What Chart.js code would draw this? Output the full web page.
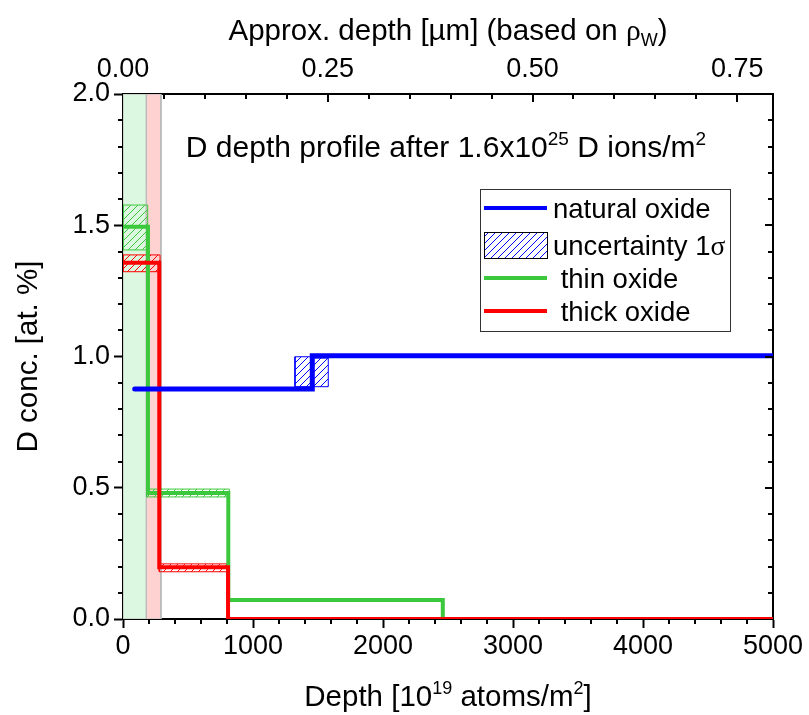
<!DOCTYPE html>
<html>
<head>
    <title>D depth profile</title>
    <script src="https://cdn.jsdelivr.net/npm/chart.js"></script>
    <style>
        body { margin: 0; background: #fff; }
        #wrap { width: 809px; height: 715px; }
    </style>
</head>
<body>
    <div id="wrap"><canvas id="profileChart"></canvas></div>
    <script>
        // layer boundaries [10^19 atoms/m^2] and D concentration [at.%] per layer
        const naturalEdges = [90, 1456, 5000];
        const naturalConc = [0.876, 1.003];
        const thinEdges = [0, 192, 810, 2460, 5000];
        const thinConc = [1.494, 0.48, 0.072, 0];
        const thickEdges = [0, 279, 808, 5000];
        const thickConc = [1.357, 0.197, 0];

        // 1 sigma boxes: [depth from, depth to, conc low, conc high]
        const naturalUnc = [[1323, 1456, 0.885, 0.999], [1456, 1579, 0.885, 0.994]];
        const thinUnc = [[0, 190, 1.406, 1.577], [182, 818, 0.465, 0.495]];
        const thickUnc = [[0, 285, 1.323, 1.387], [279, 808, 0.18, 0.21]];

        // oxide layers (shaded bands)
        const thinBand = [0, 180];
        const thickBand = [180, 292];

        // axes
        const depthMax = 5000;
        const concMax = 2.0;
        const depthTicks = [0, 1000, 2000, 3000, 4000, 5000];
        const umTicks = [0, 0.25, 0.5, 0.75];
        const concTicks = [0, 0.5, 1.0, 1.5, 2.0];
        const W_DENSITY = 6.3e28; // atoms/m^3
        const umMax = depthMax * 1e19 / W_DENSITY * 1e6;

        const FONT = '"Liberation Sans", Arial, sans-serif';
        const SERIF = '"Liberation Serif", "Times New Roman", serif';

        function steps(edges, conc) {
            const pts = conc.map((c, i) => ({ x: edges[i], y: c }));
            pts.push({ x: edges[edges.length - 1], y: conc[conc.length - 1] });
            return pts;
        }

        function box(b) {
            const [x0, x1, lo, hi] = b;
            return [{ x: x0, y: lo }, { x: x1, y: lo }, { x: x1, y: hi }, { x: x0, y: hi }, { x: x0, y: lo }];
        }

        function band(b) {
            return [{ x: b[0], y: 0 }, { x: b[0], y: concMax }, { x: b[1], y: concMax }, { x: b[1], y: 0 }, { x: b[0], y: 0 }];
        }

        function hatch(color) {
            const c = document.createElement('canvas');
            c.width = 7; c.height = 7;
            const g = c.getContext('2d');
            g.strokeStyle = color;
            g.lineWidth = 1;
            g.beginPath();
            g.moveTo(0, 7); g.lineTo(7, 0);
            g.moveTo(-1, 1); g.lineTo(1, -1);
            g.moveTo(6, 8); g.lineTo(8, 6);
            g.stroke();
            return g.createPattern(c, 'repeat');
        }

        const BLUE = '#0000ff', GREEN = '#3cc83c', RED = '#ff0000';

        function stepSet(data, color, width, cap) {
            return { data, borderColor: color, borderWidth: width, stepped: 'before', pointRadius: 0, fill: false, order: 1, borderCapStyle: cap || 'butt' };
        }
        function boxSet(b, color) {
            return { data: box(b), borderColor: color, borderWidth: 1, backgroundColor: hatch(color), fill: 'shape', pointRadius: 0, order: 2 };
        }
        function bandSet(b, color) {
            return { data: band(b), borderColor: '#b8b8b8', borderWidth: 1, backgroundColor: color, fill: 'shape', pointRadius: 0, order: 3 };
        }

        const datasets = [
            stepSet(steps(naturalEdges, naturalConc), BLUE, 5, 'round'),
            stepSet(steps(thickEdges, thickConc), RED, 4),
            stepSet(steps(thinEdges, thinConc), GREEN, 4),
            ...naturalUnc.map(b => boxSet(b, BLUE)),
            ...thickUnc.map(b => boxSet(b, RED)),
            ...thinUnc.map(b => boxSet(b, GREEN)),
            bandSet(thickBand, '#ffd2d2'),
            bandSet(thinBand, '#dcf8e0'),
        ];

        // text with super/subscripts
        function rich(ctx, parts, x, y, size, align) {
            const fontOf = m => {
                const s = (m === 'sup' || m === 'sub') ? Math.round(size * 0.62) : size;
                return s + 'px ' + (m === 'serif' ? SERIF : FONT);
            };
            const widths = parts.map(([t, m]) => { ctx.font = fontOf(m); return ctx.measureText(t).width; });
            const total = widths.reduce((a, b) => a + b, 0);
            let cx = align === 'center' ? x - total / 2 : x;
            ctx.textAlign = 'left';
            ctx.textBaseline = 'alphabetic';
            parts.forEach(([t, m], i) => {
                ctx.font = fontOf(m);
                const dy = m === 'sup' ? -size * 0.4 : m === 'sub' ? size * 0.22 : 0;
                ctx.fillText(t, cx, y + dy);
                cx += widths[i];
            });
        }

        const frame = {
            id: 'frame',
            afterDraw(chart) {
                const ctx = chart.ctx;
                const { x, x2, y, y2 } = chart.scales;
                const a = chart.chartArea;
                ctx.save();
                ctx.strokeStyle = '#000';
                ctx.lineWidth = 2;
                ctx.beginPath();
                // bottom minor ticks (outward)
                for (let v = 200; v < depthMax; v += 200) {
                    if (v % 1000 === 0) continue;
                    const px = Math.round(x.getPixelForValue(v));
                    ctx.moveTo(px, a.bottom); ctx.lineTo(px, a.bottom + 5);
                }
                // left minor ticks (outward)
                for (let i = 1; i < 20; i++) {
                    if (i % 5 === 0) continue;
                    const py = Math.round(y.getPixelForValue(i / 10));
                    ctx.moveTo(a.left, py); ctx.lineTo(a.left - 5, py);
                }
                // top ticks (inward)
                for (let i = 1; i * 0.05 < umMax; i++) {
                    const px = Math.round(x2.getPixelForValue(i * 0.05));
                    const len = i % 5 === 0 ? 8 : 5;
                    ctx.moveTo(px, a.top); ctx.lineTo(px, a.top + len);
                }
                // right ticks (inward)
                for (let i = 1; i < 20; i++) {
                    const py = Math.round(y2.getPixelForValue(i / 10));
                    const len = i % 5 === 0 ? 8 : 5;
                    ctx.moveTo(a.right, py); ctx.lineTo(a.right - len, py);
                }
                ctx.stroke();

                ctx.fillStyle = '#000';
                // axis titles
                rich(ctx, [['Depth [10'], ['19', 'sup'], [' atoms/m'], ['2', 'sup'], [']']], (a.left + a.right) / 2, 706, 29.5, 'center');
                rich(ctx, [['Approx. depth [µm] (based on '], ['ρ', 'serif'], ['W', 'sub'], [')']], 448, 40, 29.5, 'center');
                ctx.save();
                ctx.translate(37, (a.top + a.bottom) / 2);
                ctx.rotate(-Math.PI / 2);
                rich(ctx, [['D conc. [at. %]']], 0, 0, 29.5, 'center');
                ctx.restore();

                // plot title
                rich(ctx, [['D depth profile after 1.6x10'], ['25', 'sup'], [' D ions/m'], ['2', 'sup']], 446, 157, 30, 'center');

                // legend
                const lx = 480, ly = 189, lw = 250, lh = 142;
                ctx.fillStyle = '#fff';
                ctx.fillRect(lx, ly, lw, lh);
                ctx.lineWidth = 1;
                ctx.strokeStyle = '#333';
                ctx.strokeRect(lx + 0.5, ly + 0.5, lw, lh);
                const rows = [
                    { label: ['natural oxide'], color: BLUE, yc: 208 },
                    { label: ['uncertainty 1', 'σ'], hatch: BLUE, yc: 245 },
                    { label: [' thin oxide'], color: GREEN, yc: 278 },
                    { label: [' thick oxide'], color: RED, yc: 311 },
                ];
                rows.forEach(r => {
                    if (r.hatch) {
                        ctx.fillStyle = hatch(r.hatch);
                        ctx.fillRect(484, 232, 63, 26);
                        ctx.strokeStyle = '#000';
                        ctx.lineWidth = 1;
                        ctx.strokeRect(484.5, 232.5, 63, 26);
                    } else {
                        ctx.strokeStyle = r.color;
                        ctx.lineWidth = 4;
                        ctx.beginPath();
                        ctx.moveTo(484, r.yc); ctx.lineTo(547, r.yc);
                        ctx.stroke();
                    }
                    ctx.fillStyle = '#000';
                    const parts = [[r.label[0]]];
                    if (r.label[1]) parts.push([r.label[1], 'serif']);
                    rich(ctx, parts, 553, r.yc + 10, 27.5, 'left');
                });
                ctx.restore();
            }
        };

        const tickFont = { family: FONT, size: 27 };

        new Chart(document.getElementById('profileChart'), {
            type: 'line',
            data: { datasets },
            options: {
                responsive: true,
                maintainAspectRatio: false,
                animation: false,
                events: [],
                layout: { padding: 0 },
                plugins: { legend: { display: false }, tooltip: { enabled: false } },
                scales: {
                    x: {
                        type: 'linear', position: 'bottom', min: 0, max: depthMax,
                        afterBuildTicks: s => { s.ticks = depthTicks.map(v => ({ value: v })); },
                        ticks: { font: tickFont, color: '#000', padding: 2, maxRotation: 0, callback: v => String(v) },
                        grid: { drawOnChartArea: false, tickLength: 9, tickWidth: 2, tickColor: '#000' },
                        border: { color: '#000', width: 2 },
                        afterFit: s => { s.height = 96; }
                    },
                    x2: {
                        type: 'linear', position: 'top', min: 0, max: umMax,
                        afterBuildTicks: s => { s.ticks = umTicks.map(v => ({ value: v })); },
                        ticks: { font: tickFont, color: '#000', padding: 8, maxRotation: 0, callback: v => v.toFixed(2) },
                        grid: { display: false, drawTicks: false },
                        border: { color: '#000', width: 2 },
                        afterFit: s => { s.height = 94; }
                    },
                    y: {
                        type: 'linear', position: 'left', min: 0, max: concMax,
                        afterBuildTicks: s => { s.ticks = concTicks.map(v => ({ value: v })); },
                        ticks: { font: tickFont, color: '#000', padding: 4, callback: v => v.toFixed(1) },
                        grid: { drawOnChartArea: false, tickLength: 9, tickWidth: 2, tickColor: '#000' },
                        border: { color: '#000', width: 2 },
                        afterFit: s => { s.width = 123; }
                    },
                    y2: {
                        type: 'linear', position: 'right', min: 0, max: concMax,
                        ticks: { display: false },
                        grid: { display: false, drawTicks: false },
                        border: { color: '#000', width: 2 },
                        afterFit: s => { s.width = 36; }
                    }
                }
            },
            plugins: [frame]
        });
    </script>
</body>
</html>
